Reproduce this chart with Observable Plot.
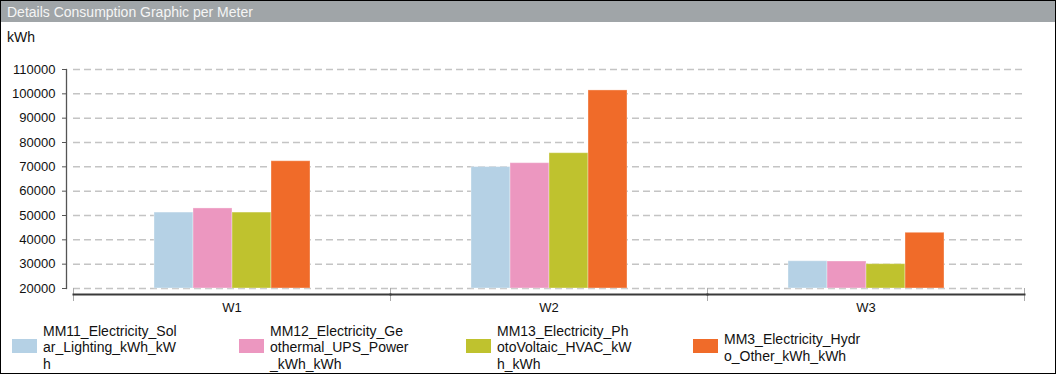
<!DOCTYPE html>
<html>
<head>
<meta charset="utf-8">
<script src="https://cdn.jsdelivr.net/npm/d3@7"></script>
<script src="https://cdn.jsdelivr.net/npm/@observablehq/plot@0.6"></script>
<style>
  html, body { margin: 0; padding: 0; background: #fff; }
  #wrap { position: relative; width: 1056px; height: 374px; overflow: hidden;
          font-family: Arial, "Liberation Sans", Helvetica, sans-serif; color: #222; }
  #header { position: absolute; left: 0; top: 0; width: 1056px; height: 22px; background: #a0a5a8;
            color: #f5f5f5; font-size: 14px; line-height: 22px; box-sizing: border-box; padding: 1px 0 0 7px; }
  #unit { position: absolute; left: 7px; top: 30px; font-size: 14px; line-height: 15px; color: #111; }
  #chart { position: absolute; left: 0; top: 0; }
  #legend { position: absolute; left: 12px; top: 323px; height: 49px; display: flex; }
  .item { width: 227px; display: flex; align-items: center; }
  .sw { width: 25px; height: 14px; margin-right: 6px; margin-bottom: 3px; flex: none; }
  .lbl { font-size: 14px; line-height: 16.5px; color: #111; }
  #border { position: absolute; inset: 0; border: 1px solid #000; box-sizing: border-box; pointer-events: none; }
</style>
</head>
<body>
<div id="wrap">
  <div id="chart"></div>
  <div id="header"></div>
  <div id="unit"></div>
  <div id="legend"></div>
  <div id="border"></div>
</div>
<script>
const title = "Details Consumption Graphic per Meter";
const unit = "kWh";
const weeks = ["W1", "W2", "W3"];
const meterLines = [
  ["MM11_Electricity_Sol", "ar_Lighting_kWh_kW", "h"],
  ["MM12_Electricity_Ge", "othermal_UPS_Power", "_kWh_kWh"],
  ["MM13_Electricity_Ph", "otoVoltaic_HVAC_kW", "h_kWh"],
  ["MM3_Electricity_Hydr", "o_Other_kWh_kWh"]
];
const meters = meterLines.map(l => l.join(""));
const colors = ["#b5d1e5", "#ec97c0", "#bfc22e", "#f06b29"];
// values per meter, in week order W1, W2, W3
const mm11 = [51200, 69900, 31200];
const mm12 = [52900, 71500, 31100];
const mm13 = [51200, 75600, 30000];
const mm3  = [72300, 101400, 42900];
const yTicks = [20000, 30000, 40000, 50000, 60000, 70000, 80000, 90000, 100000, 110000];
const yMin = 20000, yMax = 110000;

const series = [mm11, mm12, mm13, mm3];
const data = [];
weeks.forEach((w, wi) => series.forEach((s, mi) => data.push({week: w, meter: meters[mi], value: s[wi]})));

document.getElementById("header").textContent = title;
document.getElementById("unit").textContent = unit;

const chart = Plot.plot({
  width: 1056,
  height: 320,
  marginTop: 69,
  marginBottom: 32,
  marginLeft: 72,
  marginRight: 31,
  style: {fontFamily: 'Arial, "Liberation Sans", Helvetica, sans-serif', fontSize: "13px", color: "#111", background: "transparent"},
  fx: {domain: weeks, padding: 0},
  x: {domain: meters, paddingInner: 0, paddingOuter: 2, axis: null},
  y: {domain: [yMin, yMax]},
  color: {domain: meters, range: colors},
  marks: [
    Plot.gridY(yTicks, {stroke: "#c4c4c4", strokeOpacity: 1, strokeWidth: 1.5, strokeDasharray: "7,4"}),
    Plot.barY(data, {fx: "week", x: "meter", y1: yMin, y2: "value", fill: "meter", stroke: "#fff", strokeOpacity: 0.35, strokeWidth: 1, inset: 0}),
    Plot.frame({anchor: "left", facetAnchor: "left", insetLeft: -7, stroke: "#555", strokeWidth: 1.3}),
    Plot.frame({anchor: "left", insetTop: 219, insetBottom: -12, stroke: "#aaa", strokeWidth: 1}),
    Plot.frame({anchor: "right", facetAnchor: "right", insetTop: 219, insetBottom: -12, stroke: "#aaa", strokeWidth: 1}),
    Plot.frame({anchor: "bottom", insetBottom: -6, stroke: "#3a3a3a", strokeWidth: 2}),
    Plot.axisY({ticks: yTicks, tickFormat: d => String(d), tickSize: 4, tickPadding: 7, dx: -7, label: null, stroke: "#555"}),
    Plot.axisFx({anchor: "bottom", tickSize: 0, tickPadding: 14, label: null})
  ]
});
document.getElementById("chart").appendChild(chart);

const legend = document.getElementById("legend");
meterLines.forEach((lines, i) => {
  const item = document.createElement("div");
  item.className = "item";
  const sw = document.createElement("div");
  sw.className = "sw";
  sw.style.background = colors[i];
  const lbl = document.createElement("div");
  lbl.className = "lbl";
  lines.forEach((t, j) => {
    if (j) lbl.appendChild(document.createElement("br"));
    lbl.appendChild(document.createTextNode(t));
  });
  item.appendChild(sw);
  item.appendChild(lbl);
  legend.appendChild(item);
});
</script>
</body>
</html>
